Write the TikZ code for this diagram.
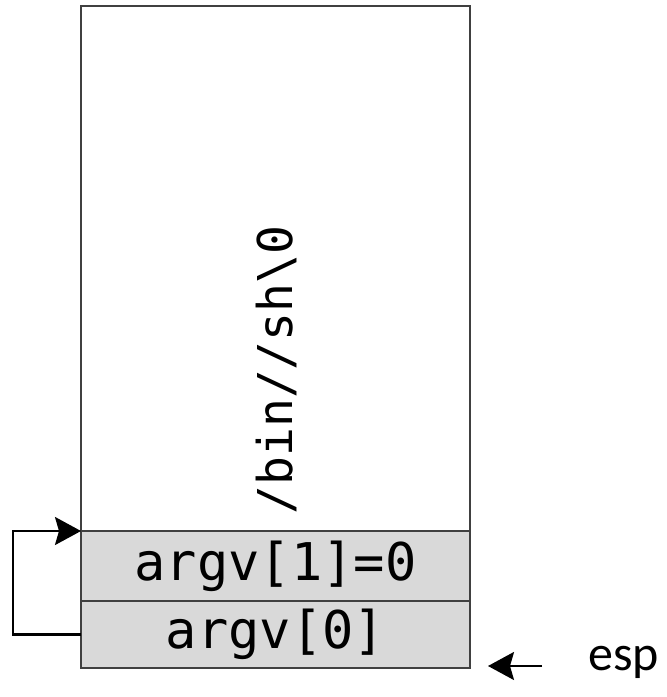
\documentclass[tikz,border=0pt]{standalone}
\usepackage{fontspec}
\setmonofont{DejaVu Sans Mono}
\newfontfamily\labelfont{Carlito}
\usetikzlibrary{arrows.meta}
\definecolor{cellgray}{HTML}{D9D9D9}
\definecolor{edgegray}{HTML}{404040}
\tikzset{
  cell/.style={draw=edgegray, line width=2.4pt, inner sep=0pt, outer sep=0pt, font=\ttfamily\fontsize{52}{62}\selectfont},
  link/.style={draw=black, line width=2.2pt, -{Stealth[length=26pt,width=28pt,inset=4pt]}}
}
\begin{document}
\begin{tikzpicture}[x=1pt,y=-1pt]
\useasboundingbox (0,0) rectangle (667,697);
% stack frame: string area and the two argv slots
\node[cell, fill=white, minimum width=389pt, minimum height=525pt, anchor=north west] (str) at (81,6) {};
\node[cell, fill=cellgray, minimum width=389pt, minimum height=70pt, anchor=north west] (a1) at (81,531) {argv[1]=0};
\node[cell, fill=cellgray, minimum width=389pt, minimum height=67pt, anchor=north west] (a0) at (81,601) {argv[0]};
\node[font=\ttfamily\fontsize{48}{58}\selectfont, rotate=90] (sh) at (276,370) {/bin//sh\textbackslash 0};
% argv[0] points back to the string
\coordinate (bend) at (13,0);
\draw[link] (a0.west) -- (a0.west -| bend) -- (a1.north west -| bend) -- (a1.north west);
% stack pointer marker
\node[font=\labelfont\fontsize{50}{60}\selectfont, anchor=west] (esp) at (585,662) {esp};
\coordinate (espstart) at (542,666);
\coordinate (esptip) at (488,666);
\draw[link] (espstart) -- (esptip);
\end{tikzpicture}
\end{document}
